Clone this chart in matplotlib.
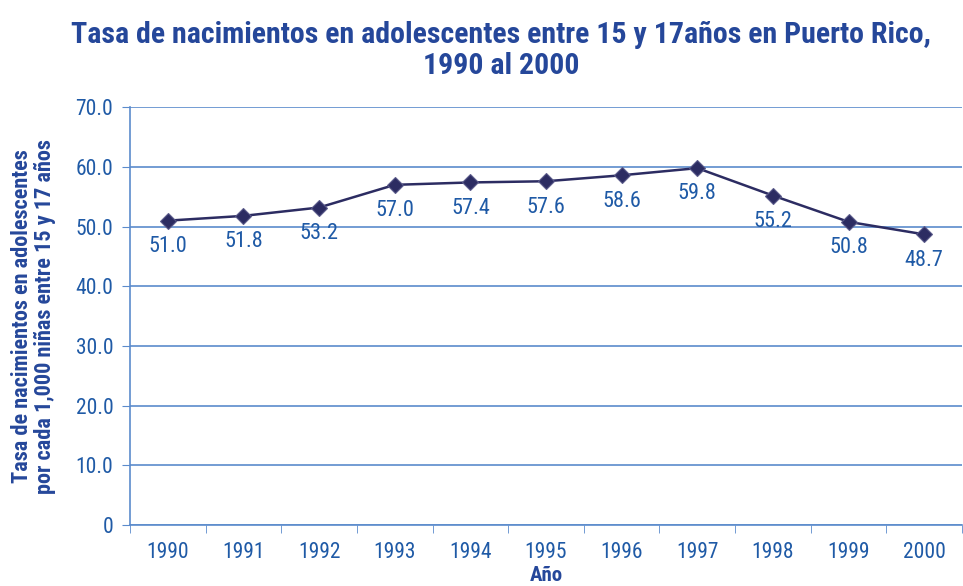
import matplotlib
matplotlib.use("Agg")
import matplotlib.pyplot as plt
from matplotlib import font_manager

# pick a condensed sans if one is installed
names = {f.name for f in font_manager.fontManager.ttflist}
font = "DejaVu Sans"
for cand in ["Roboto Condensed", "Archivo Narrow", "PT Sans Narrow", "Liberation Sans Narrow",
             "Open Sans Condensed", "Pragati Narrow", "Encode Sans Condensed"]:
    if cand in names:
        font = cand
        break
plt.rcParams["font.family"] = [font, "DejaVu Sans"]

years = ['1990', '1991', '1992', '1993', '1994', '1995', '1996', '1997', '1998', '1999', '2000']
rates = [51.0, 51.8, 53.2, 57.0, 57.4, 57.6, 58.6, 59.8, 55.2, 50.8, 48.7]
yticks = [0, 10, 20, 30, 40, 50, 60, 70]
ytick_labels = ['0', '10.0', '20.0', '30.0', '40.0', '50.0', '60.0', '70.0']

text_blue = '#1f5aa6'
title_blue = '#25479a'
grid_blue = '#5b8bcc'
line_navy = '#2c2c62'

fig = plt.figure(figsize=(9.63, 5.86), dpi=100)
ax = fig.add_axes([0.135, 0.104, 0.864, 0.713])

x = list(range(len(years)))
ax.plot(x, rates, color=line_navy, lw=1.8, marker='D', markersize=8,
        markerfacecolor=line_navy, markeredgecolor='#5a5a8a', markeredgewidth=0.8, zorder=3)
for xi, v in zip(x, rates):
    ax.annotate('%.1f' % v, (xi, v), xytext=(0, -11), textcoords='offset points',
                ha='center', va='top', fontsize=16, color=text_blue)

ax.set_xlim(-0.5, len(years) - 0.5)
ax.set_ylim(0, 70)
ax.set_yticks(yticks)
ax.set_yticklabels(ytick_labels)
ax.set_xticks(x)
ax.set_xticklabels(years)
ax.set_xticks([i - 0.5 for i in range(len(years) + 1)], minor=True)
ax.tick_params(axis='x', which='major', length=0, pad=12, labelsize=15.5, labelcolor=text_blue)
ax.tick_params(axis='x', which='minor', length=6, color=grid_blue, direction='out')
ax.tick_params(axis='y', length=6, color=grid_blue, pad=6, labelsize=15.5, labelcolor=text_blue)
ax.yaxis.grid(True, color=grid_blue, lw=1.2)
ax.set_axisbelow(True)
for s in ['top', 'right']:
    ax.spines[s].set_visible(False)
ax.spines['left'].set_color(grid_blue)
ax.spines['bottom'].set_color(grid_blue)
ax.spines['left'].set_linewidth(1.2)
ax.spines['bottom'].set_linewidth(1.2)

ax.set_xlabel('Año', fontsize=15, fontweight='bold', color=title_blue, labelpad=2)
ax.set_ylabel('Tasa de nacimientos en adolescentes\npor cada 1,000 niñas entre 15 y 17 años',
              fontsize=16, fontweight='bold', color=title_blue, labelpad=14, linespacing=1.05)

fig.suptitle('Tasa de nacimientos en adolescentes entre 15 y 17años en Puerto Rico,\n1990 al 2000',
             x=0.52, y=0.965, fontsize=21.5, fontweight='bold', color=title_blue, linespacing=1.15)

fig.savefig('out.png', dpi=100)
